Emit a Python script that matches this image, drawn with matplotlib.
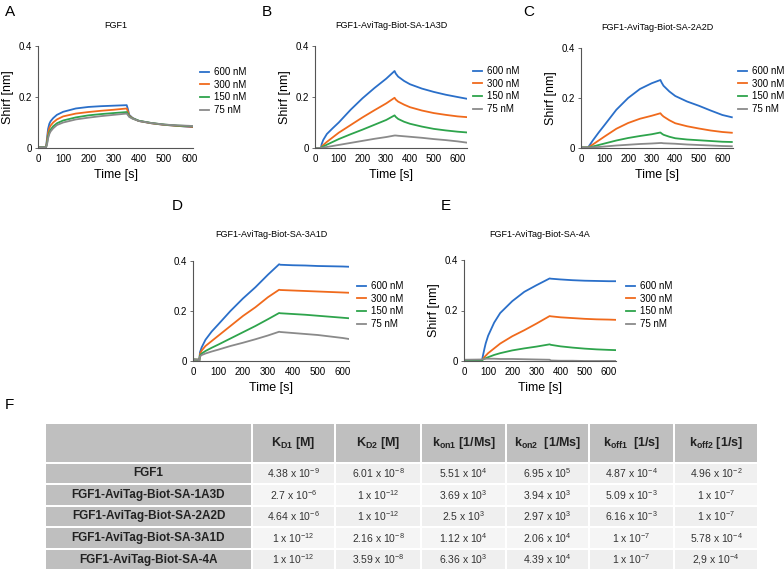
import matplotlib.pyplot as plt
import numpy as np

plt.rcParams['font.family'] = ['Liberation Sans', 'DejaVu Sans']
plt.rcParams['axes.unicode_minus'] = False

W, H = 784, 570

concs = ["600 nM", "300 nM", "150 nM", "75 nM"]
colors = ["#2a6fc9", "#f06a1c", "#2ea44c", "#8a8a8a"]

# panel A - FGF1
tA = [0, 32, 36, 40, 45, 50, 60, 75, 100, 150, 200, 250, 300, 352, 356, 362, 375, 400, 450, 500, 550, 600, 615]
a600 = [0.003, 0.003, 0.04, 0.075, 0.095, 0.105, 0.117, 0.13, 0.142, 0.155, 0.161, 0.164, 0.166, 0.168, 0.155, 0.13, 0.118, 0.106, 0.097, 0.091, 0.087, 0.083, 0.082]
a300 = [0.003, 0.003, 0.03, 0.06, 0.078, 0.088, 0.1, 0.112, 0.124, 0.135, 0.141, 0.146, 0.15, 0.155, 0.145, 0.127, 0.117, 0.106, 0.097, 0.091, 0.087, 0.084, 0.083]
a150 = [0.003, 0.003, 0.02, 0.045, 0.062, 0.072, 0.085, 0.097, 0.108, 0.12, 0.128, 0.133, 0.137, 0.141, 0.135, 0.124, 0.116, 0.107, 0.098, 0.092, 0.088, 0.086, 0.085]
a75 = [0.003, 0.003, 0.015, 0.038, 0.055, 0.065, 0.077, 0.09, 0.1, 0.112, 0.119, 0.125, 0.13, 0.135, 0.13, 0.122, 0.115, 0.106, 0.098, 0.092, 0.089, 0.087, 0.086]

# panel B - 1A3D
tB = [0, 25, 28, 35, 50, 75, 100, 150, 200, 250, 300, 335, 340, 350, 375, 400, 450, 500, 550, 600, 640]
b600 = [0.0, 0.0, 0.015, 0.032, 0.055, 0.078, 0.1, 0.15, 0.195, 0.235, 0.272, 0.302, 0.292, 0.28, 0.263, 0.25, 0.233, 0.22, 0.209, 0.2, 0.193]
b300 = [0.0, 0.0, 0.005, 0.012, 0.024, 0.042, 0.06, 0.09, 0.12, 0.148, 0.175, 0.197, 0.19, 0.182, 0.17, 0.16, 0.147, 0.137, 0.13, 0.124, 0.121]
b150 = [0.0, 0.0, 0.003, 0.006, 0.013, 0.024, 0.035, 0.054, 0.072, 0.091, 0.11, 0.128, 0.122, 0.114, 0.103, 0.095, 0.084, 0.075, 0.069, 0.064, 0.061]
b75 = [0.0, 0.0, 0.001, 0.002, 0.004, 0.008, 0.012, 0.02, 0.028, 0.036, 0.043, 0.049, 0.049, 0.048, 0.046, 0.044, 0.04, 0.035, 0.031, 0.026, 0.021]

# panel C - 2A2D
tC = [0, 30, 50, 75, 100, 150, 200, 250, 300, 337, 342, 350, 375, 400, 450, 500, 550, 600, 640]
c600 = [0.002, 0.002, 0.03, 0.062, 0.092, 0.153, 0.2, 0.236, 0.259, 0.272, 0.262, 0.249, 0.226, 0.208, 0.186, 0.169, 0.15, 0.132, 0.123]
c300 = [0.002, 0.002, 0.014, 0.03, 0.046, 0.077, 0.1, 0.117, 0.129, 0.139, 0.133, 0.126, 0.111, 0.099, 0.087, 0.078, 0.07, 0.064, 0.061]
c150 = [0.002, 0.002, 0.006, 0.012, 0.018, 0.03, 0.04, 0.048, 0.055, 0.062, 0.058, 0.053, 0.045, 0.039, 0.034, 0.031, 0.028, 0.025, 0.024]
c75 = [0.002, 0.002, 0.003, 0.004, 0.006, 0.01, 0.013, 0.016, 0.018, 0.02, 0.02, 0.019, 0.018, 0.017, 0.014, 0.012, 0.01, 0.008, 0.007]

# panel D - 3A1D
tD = [0, 22, 25, 28, 35, 50, 75, 100, 150, 200, 250, 300, 345, 350, 400, 450, 500, 550, 600, 625]
d600 = [0.006, 0.005, 0.0, 0.035, 0.055, 0.085, 0.118, 0.145, 0.2, 0.25, 0.295, 0.345, 0.387, 0.385, 0.383, 0.382, 0.38, 0.379, 0.378, 0.377]
d300 = [0.006, 0.005, 0.0, 0.028, 0.042, 0.06, 0.08, 0.1, 0.14, 0.18, 0.215, 0.255, 0.285, 0.284, 0.282, 0.28, 0.278, 0.276, 0.274, 0.273]
d150 = [0.006, 0.005, 0.0, 0.022, 0.03, 0.04, 0.053, 0.065, 0.09, 0.115, 0.14, 0.167, 0.192, 0.191, 0.188, 0.185, 0.181, 0.177, 0.173, 0.171]
d75 = [0.006, 0.005, 0.0, 0.018, 0.024, 0.03, 0.038, 0.045, 0.06, 0.073, 0.087, 0.102, 0.117, 0.116, 0.112, 0.108, 0.104, 0.098, 0.092, 0.088]

# panel E - 4A
tE = [0, 75, 80, 85, 90, 100, 125, 150, 200, 250, 300, 355, 360, 400, 450, 500, 550, 600, 630]
e600 = [0.004, 0.004, 0.028, 0.05, 0.07, 0.1, 0.152, 0.19, 0.237, 0.274, 0.3, 0.327, 0.326, 0.323, 0.32, 0.318, 0.317, 0.316, 0.316]
e300 = [0.003, 0.003, 0.01, 0.016, 0.021, 0.031, 0.05, 0.069, 0.098, 0.122, 0.148, 0.178, 0.177, 0.173, 0.17, 0.167, 0.165, 0.164, 0.163]
e150 = [0.002, 0.002, 0.007, 0.009, 0.011, 0.015, 0.024, 0.031, 0.042, 0.05, 0.057, 0.066, 0.064, 0.058, 0.053, 0.049, 0.046, 0.044, 0.043]
e75 = [0.005, 0.006, 0.008, 0.008, 0.009, 0.009, 0.009, 0.008, 0.008, 0.007, 0.006, 0.005, 0.002, 0.001, 0.001, 0.0, 0.0, 0.0, 0.0]

# table F
row_names = ["FGF1", "FGF1-AviTag-Biot-SA-1A3D", "FGF1-AviTag-Biot-SA-2A2D",
             "FGF1-AviTag-Biot-SA-3A1D", "FGF1-AviTag-Biot-SA-4A"]
col_names = [r"K$_{\mathregular{D1}}$ [M]", r"K$_{\mathregular{D2}}$ [M]",
             r"k$_{\mathregular{on1}}$ [1/Ms]", r"k$_{\mathregular{on2}}$  [1/Ms]",
             r"k$_{\mathregular{off1}}$  [1/s]", r"k$_{\mathregular{off2}}$ [1/s]"]
mant = [["4.38", "6.01", "5.51", "6.95", "4.87", "4.96"],
        ["2.7", "1", "3.69", "3.94", "5.09", "1"],
        ["4.64", "1", "2.5", "2.97", "6.16", "1"],
        ["1", "2.16", "1.12", "2.06", "1", "5.78"],
        ["1", "3.59", "6.36", "4.39", "1", "2,9"]]
expo = [["-9", "-8", "4", "5", "-4", "-2"],
        ["-6", "-12", "3", "3", "-3", "-7"],
        ["-6", "-12", "3", "3", "-3", "-7"],
        ["-12", "-8", "4", "4", "-7", "-4"],
        ["-12", "-8", "3", "4", "-7", "-4"]]

fig = plt.figure(figsize=(W / 100, H / 100), dpi=100)


def px_axes(x0, x1, top, bottom):
    return fig.add_axes([x0 / W, 1 - bottom / H, (x1 - x0) / W, (bottom - top) / H])


panels = [
    ("A", "FGF1", (38, 193, 46, 148), 615, tA, [a600, a300, a150, a75], True, (5, 12), 25, (200, 67)),
    ("B", "FGF1-AviTag-Biot-SA-1A3D", (315, 467, 46, 148), 640, tB, [b600, b300, b150, b75], True, (262, 12), 25, (473, 66)),
    ("C", "FGF1-AviTag-Biot-SA-2A2D", (581, 733, 48, 148), 645, tC, [c600, c300, c150, c75], True, (523, 12), 27, (738, 66)),
    ("D", "FGF1-AviTag-Biot-SA-3A1D", (193, 349, 261, 361), 625, tD, [d600, d300, d150, d75], False, (172, 206), 235, (357, 281)),
    ("E", "FGF1-AviTag-Biot-SA-4A", (464, 616, 260, 361), 630, tE, [e600, e300, e150, e75], True, (441, 206), 235, (626, 281)),
]

for letter, title, box, xmax, t, series, ylab, lpos, ty, legpos in panels:
    ax = px_axes(*box)
    for y, c, lab in zip(series, colors, concs):
        ax.plot(t, y, color=c, lw=1.3, label=lab)
    ax.set_xlim(0, xmax)
    ax.set_ylim(0, 0.4)
    ax.set_xticks([0, 100, 200, 300, 400, 500, 600])
    ax.set_yticks([0, 0.2, 0.4])
    ax.set_yticklabels(["0", "0.2", "0.4"])
    for s in ["top", "right"]:
        ax.spines[s].set_visible(False)
    for s in ["left", "bottom"]:
        ax.spines[s].set_color("#555555")
        ax.spines[s].set_linewidth(0.8)
    ax.tick_params(axis="both", labelsize=7, length=2, width=0.6, color="#555555", pad=2)
    ax.tick_params(axis="x", length=0, pad=4)
    ax.set_xlabel("Time [s]", fontsize=9, labelpad=4)
    if ylab:
        ax.set_ylabel("Shirf [nm]", fontsize=9, labelpad=4)
    cx = (box[0] + box[1]) / 2
    fig.text(cx / W, 1 - ty / H, title, fontsize=6.5, ha="center", va="center")
    fig.text(lpos[0] / W, 1 - lpos[1] / H, letter, fontsize=11, ha="left", va="center")
    ax.legend(loc="upper left", bbox_to_anchor=(legpos[0] / W, 1 - legpos[1] / H),
              bbox_transform=fig.transFigure, frameon=False, fontsize=7,
              handlelength=0.9, handletextpad=0.5, labelspacing=0.28, borderpad=0, borderaxespad=0)

fig.text(5 / W, 1 - 405 / H, "F", fontsize=11, ha="left", va="center")

# table drawn in pixel coordinates
tax = fig.add_axes([0, 0, 1, 1])
tax.set_xlim(0, W)
tax.set_ylim(H, 0)
tax.axis("off")

col_edges = [45, 252, 335, 421, 506, 589, 674, 758]
row_edges = [423, 463, 484, 506, 527, 549, 570]
gap = 1.0
for r in range(6):
    for c in range(7):
        x0, x1 = col_edges[c], col_edges[c + 1]
        y0, y1 = row_edges[r], row_edges[r + 1]
        if r == 0 or c == 0:
            fc = "#bfbfbf"
        else:
            fc = "#efefef" if r % 2 == 1 else "#f5f5f5"
        tax.add_patch(plt.Rectangle((x0 + gap, y0 + gap), x1 - x0 - 2 * gap, y1 - y0 - 2 * gap,
                                    facecolor=fc, edgecolor="none"))
        cxp, cyp = (x0 + x1) / 2, (y0 + y1) / 2
        if r == 0 and c > 0:
            tax.text(cxp, cyp, col_names[c - 1], fontsize=9, fontweight="bold",
                     ha="center", va="center", color="#222222")
        elif r > 0 and c == 0:
            tax.text(cxp, cyp, row_names[r - 1], fontsize=8.5, fontweight="bold",
                     ha="center", va="center", color="#222222")
        elif r > 0:
            s = mant[r - 1][c - 1] + r" x 10$^{\mathregular{" + expo[r - 1][c - 1] + "}}$"
            tax.text(cxp, cyp, s, fontsize=7.5, ha="center", va="center", color="#333333")

fig.savefig("out.png", dpi=100)
